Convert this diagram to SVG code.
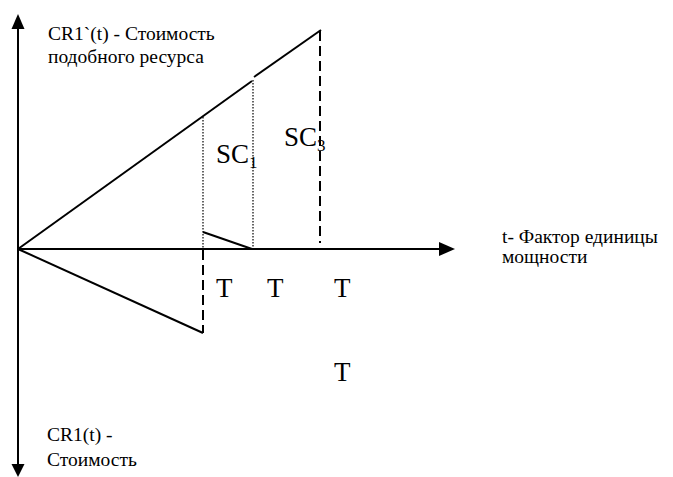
<svg xmlns="http://www.w3.org/2000/svg" width="673" height="477" viewBox="0 0 673 477">
<style>
.ax{stroke:#000;stroke-width:2;fill:none}
.ln{stroke:#000;stroke-width:2;fill:none}
.ds{stroke:#000;stroke-width:2;fill:none;stroke-dasharray:10 5}
.dt{stroke:#000;stroke-width:1.2;fill:none;stroke-dasharray:1.5 1.5}
.t{font-family:"Liberation Serif","Times New Roman",serif;font-size:19.5px;fill:#000}
.b{font-family:"Liberation Serif","Times New Roman",serif;font-size:27px;fill:#000}
.s{font-family:"Liberation Serif","Times New Roman",serif;font-size:17px;fill:#000}
</style>
<rect width="673" height="477" fill="#fff"/>
<g id="axes">
<line class="ax" x1="18" y1="28" x2="18" y2="466"/>
<polygon points="18,14 11.5,29 24.5,29" fill="#000"/>
<polygon points="18,477 11.5,464 24.5,464" fill="#000"/>
<line class="ax" x1="18" y1="249" x2="440" y2="249"/>
<polygon points="455,249 439,242 439,256" fill="#000"/>
</g>
<g id="connectors">
<line class="ln" x1="18" y1="249" x2="252" y2="81"/>
<line class="ln" x1="254" y1="77" x2="321" y2="30"/>
<line class="ln" x1="18" y1="249" x2="203" y2="333"/>
<line class="ln" x1="203" y1="232" x2="252" y2="249"/>
<line class="dt" x1="203" y1="117" x2="203" y2="249"/>
<line class="dt" x1="253" y1="80" x2="253" y2="249"/>
<line class="ds" x1="320" y1="31" x2="320" y2="243"/>
<line class="ds" x1="203" y1="250" x2="203" y2="333"/>
</g>
<g id="labels">
<text class="t" x="48" y="40">CR1`(t) - Стоимость</text>
<text class="t" x="48" y="63">подобного ресурса</text>
<text class="t" x="502" y="243">t- Фактор единицы</text>
<text class="t" x="502" y="263">мощности</text>
<text class="t" x="47" y="441">CR1(t) -</text>
<text class="t" x="47" y="466">Стоимость</text>
<text class="b" x="216" y="163">SC<tspan class="s" dy="5">1</tspan></text>
<text class="b" x="284" y="146">SC<tspan class="s" dy="5">3</tspan></text>
<text class="b" x="216" y="297">T</text>
<text class="b" x="267" y="297">T</text>
<text class="b" x="334" y="297">T</text>
<text class="b" x="334" y="381">T</text>
</g>
</svg>
